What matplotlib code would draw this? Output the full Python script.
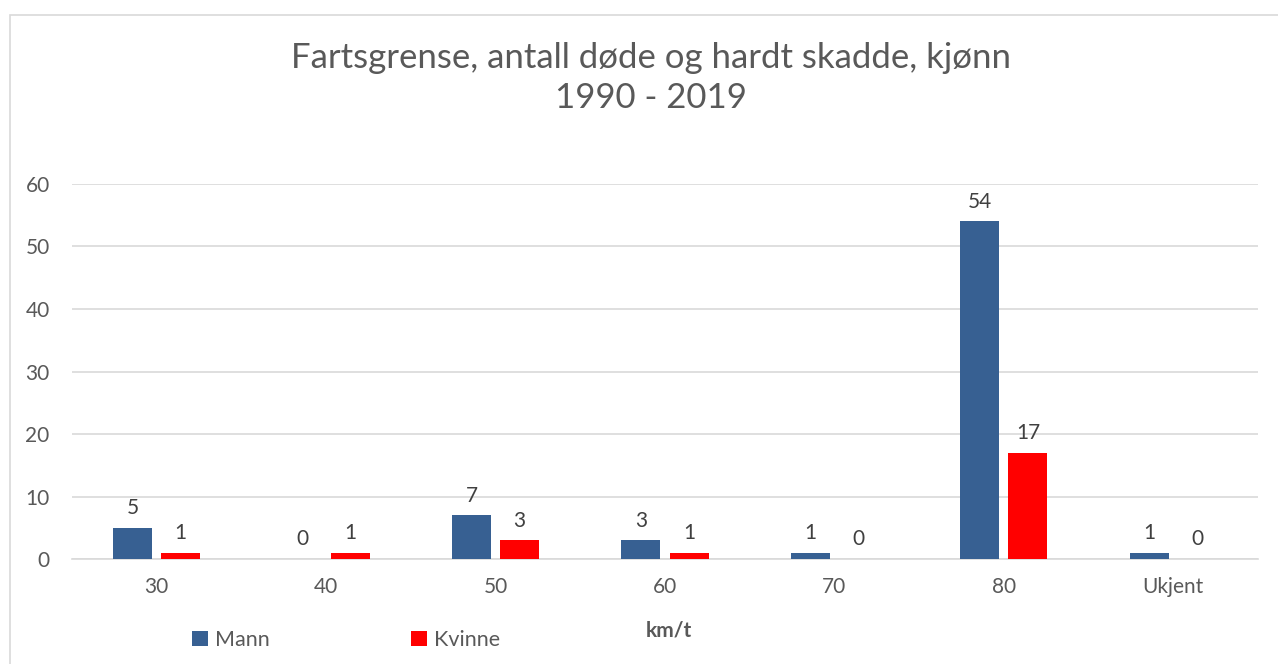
import matplotlib.pyplot as plt
from matplotlib.patches import Rectangle
import numpy as np

plt.rcParams['font.family'] = ['Lato', 'DejaVu Sans']

categories = ["30", "40", "50", "60", "70", "80", "Ukjent"]
mann = [5, 0, 7, 3, 1, 54, 1]
kvinne = [1, 1, 3, 1, 0, 17, 0]

grey = "#595959"
x = np.arange(len(categories))
w = 0.23
off = 0.142

fig = plt.figure(figsize=(12.78, 6.64), dpi=100)
ax = fig.add_axes([0.0563, 0.1581, 0.9281, 0.5648])

# chart border
fig.patches.append(Rectangle((0.008, -0.01), 1.0, 0.988, transform=fig.transFigure,
                             fill=False, edgecolor="#d9d9d9", linewidth=1.2))

b1 = ax.bar(x - off, mann, w, color="#376092", label="Mann", zorder=3)
b2 = ax.bar(x + off, kvinne, w, color="#ff0000", label="Kvinne", zorder=3)

for bars, vals in ((b1, mann), (b2, kvinne)):
    for bar, v in zip(bars, vals):
        ax.annotate(str(v), (bar.get_x() + bar.get_width() / 2, v),
                    xytext=(0, 7), textcoords="offset points",
                    ha="center", va="bottom", fontsize=15, color="#404040")

ax.set_xlim(-0.5, len(categories) - 0.5)
ax.set_ylim(0, 60)
ax.set_yticks(range(0, 61, 10))
ax.set_xticks(x)
ax.set_xticklabels(categories)
ax.tick_params(length=0, labelsize=15, colors=grey)
ax.tick_params(axis="x", pad=13)
ax.tick_params(axis="y", pad=16)
ax.grid(axis="y", color="#d9d9d9", linewidth=1.2, zorder=0)
for s in ["top", "right", "left"]:
    ax.spines[s].set_visible(False)
ax.spines["bottom"].set_color("#d9d9d9")
ax.spines["bottom"].set_linewidth(1.2)

fig.text(0.509, 0.882, "Fartsgrense, antall døde og hardt skadde, kjønn\n1990 - 2019",
         ha="center", va="center", fontsize=25, color=grey,
         linespacing=1.3)

fig.text(0.523, 0.05, "km/t", ha="center", va="center", fontsize=15,
         color=grey, fontweight="bold")

ax.legend(loc="center left", bbox_to_anchor=(0.135, 0.036), bbox_transform=fig.transFigure,
          ncol=2, frameon=False, fontsize=15.5, handlelength=0.75, handleheight=0.75,
          handletextpad=0.3, columnspacing=6.6, labelcolor=grey)

fig.savefig("out.png", dpi=100)
